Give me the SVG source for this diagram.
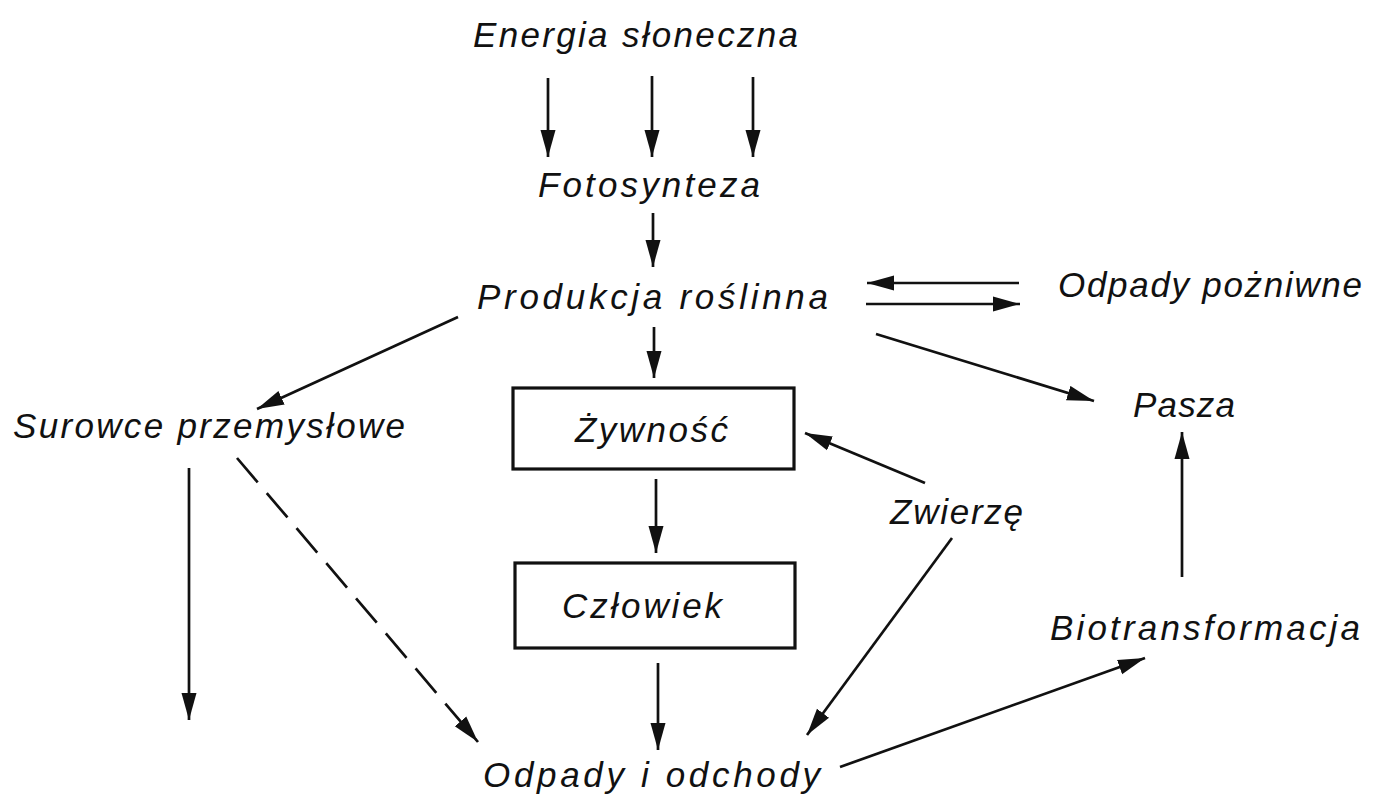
<svg xmlns="http://www.w3.org/2000/svg" width="1379" height="795" viewBox="0 0 1379 795">
<style>
  text { font-family: "Liberation Sans", "DejaVu Sans", sans-serif; font-style: italic; font-size: 35px; fill: #111; }
  .ln { stroke: #111; stroke-width: 2.7; fill: none; }
  .dash { stroke-dasharray: 32 14; }
  .box { stroke: #111; stroke-width: 3.2; fill: #fff; }
</style>
<defs>
  <marker id="ah" markerUnits="userSpaceOnUse" markerWidth="30" markerHeight="18" refX="27" refY="8" orient="auto">
    <path d="M0,0.5 L27,8 L0,15.5 Z" fill="#111"/>
  </marker>
</defs>
<rect width="1379" height="795" fill="#fff"/>

<g id="connectors">
  <line class="ln" x1="548" y1="78" x2="548" y2="157" marker-end="url(#ah)"/>
  <line class="ln" x1="652" y1="76" x2="652" y2="157" marker-end="url(#ah)"/>
  <line class="ln" x1="753" y1="77" x2="753" y2="157" marker-end="url(#ah)"/>
  <line class="ln" x1="653" y1="213" x2="653" y2="267" marker-end="url(#ah)"/>
  <line class="ln" x1="1019" y1="283" x2="867" y2="283" marker-end="url(#ah)"/>
  <line class="ln" x1="866" y1="304" x2="1020" y2="304" marker-end="url(#ah)"/>
  <line class="ln" x1="876" y1="334" x2="1094" y2="401" marker-end="url(#ah)"/>
  <line class="ln" x1="458" y1="317" x2="257" y2="409" marker-end="url(#ah)"/>
  <line class="ln" x1="654" y1="327" x2="654" y2="378" marker-end="url(#ah)"/>
  <line class="ln" x1="189" y1="468" x2="189" y2="720" marker-end="url(#ah)"/>
  <line class="ln dash" x1="237" y1="458" x2="478" y2="742" marker-end="url(#ah)"/>
  <line class="ln" x1="656" y1="479" x2="656" y2="553" marker-end="url(#ah)"/>
  <line class="ln" x1="658" y1="663" x2="658" y2="750" marker-end="url(#ah)"/>
  <line class="ln" x1="925" y1="483" x2="805" y2="433" marker-end="url(#ah)"/>
  <line class="ln" x1="952" y1="538" x2="807" y2="735" marker-end="url(#ah)"/>
  <line class="ln" x1="840" y1="767" x2="1145" y2="658" marker-end="url(#ah)"/>
  <line class="ln" x1="1182" y1="577" x2="1182" y2="432" marker-end="url(#ah)"/>
</g>

<g id="energia"><text x="473" y="47" textLength="325" lengthAdjust="spacing">Energia słoneczna</text></g>
<g id="fotosynteza"><text x="538" y="197" textLength="222" lengthAdjust="spacing">Fotosynteza</text></g>
<g id="produkcja"><text x="477" y="309" textLength="351" lengthAdjust="spacing">Produkcja roślinna</text></g>
<g id="odpady-pozniwne"><text x="1058" y="297" textLength="304" lengthAdjust="spacing">Odpady pożniwne</text></g>
<g id="surowce"><text x="13" y="438" textLength="392" lengthAdjust="spacing">Surowce przemysłowe</text></g>
<g id="pasza"><text x="1133" y="417" textLength="102" lengthAdjust="spacing">Pasza</text></g>
<g id="zywnosc">
  <rect class="box" x="513" y="388" width="281" height="81"/>
  <text x="575" y="442" textLength="153" lengthAdjust="spacing">Żywność</text>
</g>
<g id="czlowiek">
  <rect class="box" x="515" y="563" width="280" height="85"/>
  <text x="562" y="618" textLength="160" lengthAdjust="spacing">Człowiek</text>
</g>
<g id="zwierze"><text x="890" y="524" textLength="133" lengthAdjust="spacing">Zwierzę</text></g>
<g id="biotransformacja"><text x="1050" y="640" textLength="310" lengthAdjust="spacing">Biotransformacja</text></g>
<g id="odpady-odchody"><text x="483" y="787" textLength="337" lengthAdjust="spacing">Odpady i odchody</text></g>
</svg>
